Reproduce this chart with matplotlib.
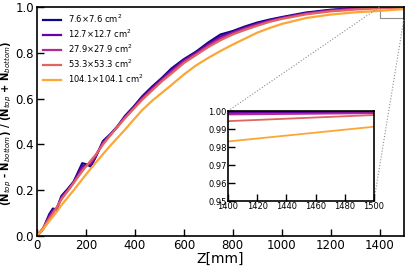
import numpy as np
from matplotlib import pyplot as plt
from mpl_toolkits.axes_grid1.inset_locator import mark_inset

z = [0, 25, 50, 65, 80, 100, 125, 150, 185, 205, 220, 240, 270, 300, 330, 360,
     395, 430, 470, 510, 550, 600, 650, 700, 750, 800, 850, 900, 950, 1000,
     1100, 1200, 1300, 1400, 1500]

r_7p6 = [0.0, 0.03, 0.095, 0.12, 0.115, 0.175, 0.205, 0.238, 0.318, 0.312,
         0.303, 0.345, 0.415, 0.445, 0.48, 0.525, 0.565, 0.61, 0.652, 0.69,
         0.732, 0.772, 0.805, 0.845, 0.88, 0.895, 0.915, 0.932, 0.945, 0.956,
         0.976, 0.988, 0.995, 0.9996, 0.9998]
r_12p7 = [0.0, 0.032, 0.088, 0.113, 0.118, 0.17, 0.2, 0.235, 0.305, 0.31,
          0.312, 0.348, 0.41, 0.443, 0.48, 0.522, 0.562, 0.605, 0.647, 0.685,
          0.725, 0.767, 0.8, 0.838, 0.871, 0.89, 0.91, 0.927, 0.941, 0.953,
          0.973, 0.986, 0.994, 0.9989, 0.9993]
r_27p9 = [0.0, 0.034, 0.08, 0.105, 0.122, 0.165, 0.198, 0.233, 0.292, 0.31,
          0.322, 0.352, 0.405, 0.442, 0.479, 0.518, 0.558, 0.6, 0.64, 0.68,
          0.718, 0.762, 0.795, 0.832, 0.863, 0.886, 0.906, 0.923, 0.938, 0.951,
          0.971, 0.984, 0.992, 0.9981, 0.9988]
r_53p3 = [0.0, 0.035, 0.075, 0.098, 0.125, 0.16, 0.195, 0.232, 0.283, 0.31,
          0.33, 0.355, 0.4, 0.44, 0.478, 0.515, 0.555, 0.595, 0.635, 0.675,
          0.71, 0.755, 0.79, 0.825, 0.855, 0.88, 0.9, 0.918, 0.935, 0.948,
          0.968, 0.981, 0.989, 0.9944, 0.9978]
r_104p1 = [0.0, 0.03, 0.065, 0.085, 0.105, 0.135, 0.168, 0.2, 0.248, 0.275,
           0.295, 0.32, 0.358, 0.395, 0.43, 0.465, 0.508, 0.55, 0.59, 0.625,
           0.66, 0.705, 0.745, 0.778, 0.808, 0.836, 0.862, 0.888, 0.908, 0.926,
           0.952, 0.967, 0.977, 0.9831, 0.9913]

labels = [r"7.6$\times$7.6 cm$^2$", r"12.7$\times$12.7 cm$^2$",
          r"27.9$\times$27.9 cm$^2$", r"53.3$\times$53.3 cm$^2$",
          r"104.1$\times$104.1 cm$^2$"]
series = [r_7p6, r_12p7, r_27p9, r_53p3, r_104p1]


def main():
    colors = plt.cm.plasma(np.linspace(0, 0.8, len(series)))

    fig = plt.figure(figsize=(4.07, 2.67), dpi=100)
    ax = fig.add_axes([0.0909, 0.116, 0.9017, 0.8577])
    for s, c, lab in zip(series, colors, labels):
        ax.plot(z, s, color=c, lw=1.6, label=lab)

    ax.set_xlim(0, 1500)
    ax.set_ylim(0, 1.0)
    ax.set_xticks(np.arange(0, 1401, 200))
    ax.set_yticks(np.arange(0, 1.01, 0.2))
    ax.tick_params(direction='in', length=5, width=1, labelsize=8.5, pad=2)
    ax.set_xlabel("Z[mm]", fontsize=10, labelpad=0)
    ax.set_ylabel(r"(N$_{top}$ - N$_{bottom}$) / (N$_{top}$ + N$_{bottom}$)",
                  fontsize=7.2, fontweight='bold')
    ax.yaxis.set_label_coords(-0.062, 0.49)
    for sp in ax.spines.values():
        sp.set_linewidth(1.2)
    ax.legend(loc='upper left', frameon=False, fontsize=6, handlelength=2.2,
              labelspacing=0.3, borderaxespad=0.3)

    axins = fig.add_axes([0.560, 0.247, 0.3587, 0.337])
    for s, c in zip(series, colors):
        axins.plot(z, s, color=c, lw=1.3)
    axins.set_xlim(1400, 1500)
    axins.set_ylim(0.95, 1.0)
    axins.set_xticks(np.arange(1400, 1501, 20))
    axins.set_yticks(np.arange(0.95, 1.001, 0.01))
    axins.yaxis.set_major_formatter(plt.FormatStrFormatter('%.2f'))
    axins.tick_params(direction='in', length=5, width=1, labelsize=6, pad=1)
    for sp in axins.spines.values():
        sp.set_linewidth(1.2)

    pp, p1, p2 = mark_inset(ax, axins, loc1=2, loc2=4, fc='none', ec='0.55', lw=0.8)
    p1.set_linestyle(':')
    p2.set_linestyle(':')

    fig.savefig("out.png", dpi=100)


if __name__ == '__main__':
    main()
